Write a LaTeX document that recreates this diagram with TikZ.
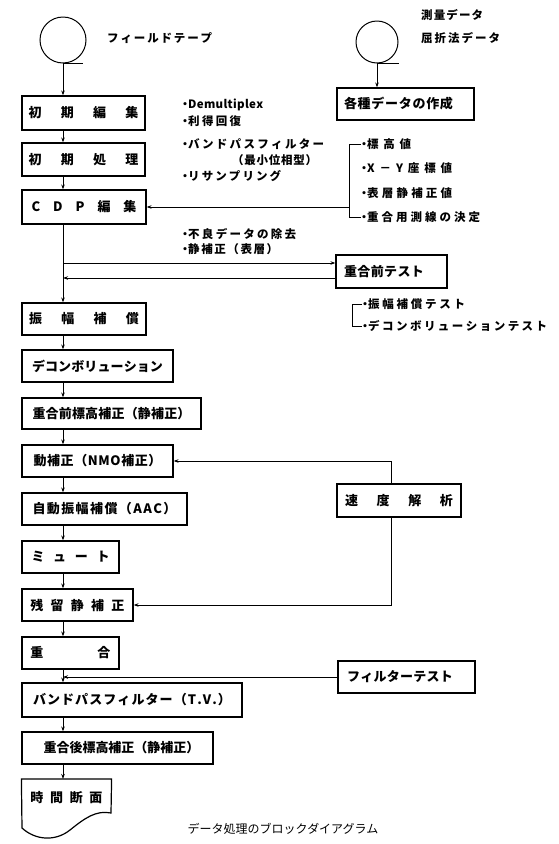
\documentclass[tikz,border=0pt]{standalone}
\usepackage{fontspec}
\setmainfont{Noto Sans CJK JP}
\usepackage{tikz}
\usetikzlibrary{arrows.meta,positioning}
% letter-spaced label: \trk{width}{text}
\def\trkEnd{}
\newcommand\trk[2]{\hbox to #1pt{\trkA#2\trkEnd}}
\def\trkA#1{#1\trkB}
\def\trkB#1{\ifx#1\trkEnd\else\hfil#1\expandafter\trkB\fi}
\newcommand\dt{\makebox[6pt]{・}}

\begin{document}
\begin{tikzpicture}[x=1pt,y=-1pt,>=Stealth,
  bx/.style={draw,line width=1.2pt,inner sep=0pt,
             font=\fontsize{13}{15}\selectfont\bfseries},
  tp/.style={draw,circle,line width=1pt,inner sep=0pt},
  an/.style={anchor=west,inner sep=0pt,font=\fontsize{11.5}{13}\selectfont\bfseries},
  ar/.style={->,line width=0.8pt,>={Stealth[length=5pt,width=3.5pt]}},
  ln/.style={line width=0.8pt}]
\useasboundingbox (0,0) rectangle (559,844);

% tapes
\node[tp,minimum size=46] (ft) at (63,40) {};
\draw[ln] (ft.south) -- ++(20,0);
\node[an] (ftl) at (107,38) {\trk{105}{フィールドテープ}};
\node[tp,minimum size=42] (sd) at (377,42) {};
\draw[ln] (sd.south) -- ++(22,0);
\node[an] (sok) at (421,15) {\trk{62}{測量データ}};
\node[an] (kus) at (421,38) {\trk{79}{屈折法データ}};

% main column
\node[bx,minimum width=123,minimum height=34] (hen) at (83.5,113)   {\trk{110}{初期編集}};
\node[bx,minimum width=123,minimum height=33] (sho) at (83.5,159.5) {\trk{110}{初期処理}};
\node[bx,minimum width=124,minimum height=34] (cdp) at (84,207)     {\trk{105}{CDP編集}};
\node[bx,minimum width=124,minimum height=32] (amp) at (84,319)     {\trk{110}{振幅補償}};
\node[bx,minimum width=151,minimum height=32] (dec) at (97.5,366)   {\trk{131}{デコンボリューション}};
\node[bx,minimum width=179,minimum height=31] (pst) at (111.5,413.5){\trk{158}{重合前標高補正（静補正）}};
\node[bx,minimum width=151,minimum height=32] (nmo) at (97.5,461)   {\trk{128}{動補正（NMO補正）}};
\node[bx,minimum width=165,minimum height=32] (aac) at (104.5,509)  {\trk{144}{自動振幅補償（AAC）}};
\node[bx,minimum width=97,minimum height=32]  (mut) at (70.5,557)   {\trk{78}{ミュート}};
\node[bx,minimum width=111,minimum height=32] (res) at (77.5,605)   {\trk{94}{残留静補正}};
\node[bx,minimum width=97,minimum height=32]  (stk) at (70.5,653)   {\trk{80}{重合}};
\node[bx,minimum width=220,minimum height=34] (bpf) at (132,700)    {\trk{198}{バンドパスフィルター（T.V.）}};
\node[bx,minimum width=191,minimum height=32] (pos) at (117.5,748)  {\trk{148}{重合後標高補正（静補正）}};
\node[bx,draw=none,anchor=north,minimum width=89,minimum height=36] (sec) at (66.5,779) {\trk{72}{時間断面}};
\draw[line width=1.2pt] (sec.north west) -- (sec.north east) -- (111,813)
  .. controls (96,810) and (85,818) .. (70,830)
  .. controls (55,842) and (35,840) .. (22,828) -- cycle;

% side boxes
\node[bx,minimum width=137,minimum height=32] (kak) at (405.5,104)  {\trk{109}{各種データの作成}\hspace*{14pt}};
\node[bx,minimum width=111,minimum height=33] (pre) at (391.5,271.5){\trk{80}{重合前テスト}\hspace*{15pt}};
\node[bx,minimum width=124,minimum height=33] (vel) at (399,500.5)  {\trk{108}{速度解析}};
\node[bx,minimum width=137,minimum height=32] (flt) at (406.5,677)  {\trk{106}{フィルターテスト}\hspace*{13pt}};

% notes
\node[an] (dmx) at (182,105) {\dt\trk{75}{Demultiplex}};
\node[an] (rit) at (182,121) {\dt\trk{53}{利得回復}};
\node[an] (bnd) at (182,144) {\dt\trk{136}{バンドパスフィルター}};
\node[an] (sai) at (232,160) {\trk{85}{（最小位相型）}};
\node[an] (rsm) at (182,176) {\dt\trk{93}{リサンプリング}};
\node[an] (fur) at (182,234) {\dt\trk{108}{不良データの除去}};
\node[an] (sei) at (182,249) {\dt\trk{90}{静補正（表層）}};
\node[an] (hyo) at (361,144) {\dt\trk{44}{標高値}};
\node[an] (xyz) at (361,168) {\dt\trk{85}{X－Y座標値}};
\node[an] (hys) at (361,193) {\dt\trk{85}{表層静補正値}};
\node[an] (ket) at (361,217) {\dt\trk{113}{重合用測線の決定}};
\node[an] (amt) at (362,304) {\dt\trk{97}{振幅補償テスト}};
\node[an] (dct) at (362,326) {\dt\trk{179}{デコンボリューションテスト}};
\node[font=\fontsize{12}{14}\selectfont] (cap) at (283,829) {データ処理のブロックダイアグラム};

% flow
\coordinate (tk) at (63,0);
\draw[ar] (ft.south) -- (hen.north -| ft.south);
\draw[ar] (sd.south) -- (kak.north -| sd.south);
\foreach \a/\b in {hen/sho,sho/cdp,cdp/amp,amp/dec,dec/pst,pst/nmo,nmo/aac,
  aac/mut,mut/res,res/stk,stk/bpf,bpf/pos,pos/sec}
  \draw[ar] (\a.south -| tk) -- (\b.north -| tk);

% brackets
\coordinate (b1) at (349,0);
\coordinate (b2) at (352,0);
\draw[ar] (cdp.east -| b1) -- (cdp.east);
\draw[ln] (hyo.west) -- (hyo.west -| b1) -- (ket.west -| b1) -- (ket.west);
\draw[ln] (amt.west) -- (amt.west -| b2) -- (dct.west -| b2) -- (dct.west);

% tests and loops
\coordinate (j1) at (63,263);
\coordinate (j2) at (63,278);
\coordinate (j3) at (63,676);
\coordinate (v1) at (391,461);
\coordinate (v2) at (391,605);
\draw[ar] (j1) -- (j1 -| pre.west);
\draw[ar] (j2 -| pre.west) -- (j2);
\draw[ar] (vel.north -| v1) -- (v1) -- (v1 -| nmo.east);
\draw[ar] (vel.south -| v1) -- (v2) -- (v2 -| res.east);
\draw[ar] (flt.west) -- (j3 |- flt.west);
\end{tikzpicture}
\end{document}
